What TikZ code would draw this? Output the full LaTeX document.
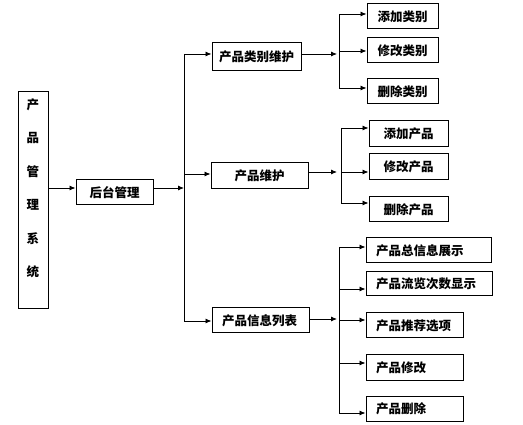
\documentclass[tikz,border=0pt]{standalone}
\usepackage{fontspec}
\newfontfamily\cjk{Noto Sans CJK SC}
\usetikzlibrary{arrows.meta}
\tikzset{
  box/.style={draw, line width=1pt, inner sep=0pt, font=\cjk\bfseries\fontsize{12.5}{14}\selectfont},
  lbox/.style={box, align=left, inner xsep=10pt},
  arr/.style={line width=0.8pt, -{Latex[length=6pt,width=5pt]}},
  ln/.style={line width=0.8pt},
}
\begin{document}
\begin{tikzpicture}[x=1pt,y=-1pt]
\useasboundingbox (0,0) rectangle (523,425);
% left column
\node[box, minimum width=30, minimum height=217] (L) at (33,200.5) {};
\node[font=\cjk\bfseries\fontsize{12.5}{33.5}\selectfont, align=center] (Lt) at (33,188.5) {产\\品\\管\\理\\系\\统};
\node[box, minimum width=77, minimum height=25] (hm) at (114.5,192.5) {后台管理};
% middle
\node[box, minimum width=89, minimum height=28] (pcm) at (256.5,57) {产品类别维护};
\node[box, minimum width=97, minimum height=26] (pm) at (259.5,176) {产品维护};
\node[lbox, text width=77, minimum height=25] (pil) at (260.5,320.5) {产品信息列表};
% group 1
\node[box, minimum width=71, minimum height=25] (c1) at (402.5,16.5) {添加类别};
\node[box, minimum width=71, minimum height=25] (c2) at (402.5,50.5) {修改类别};
\node[box, minimum width=71, minimum height=25] (c3) at (402.5,91.5) {删除类别};
% group 2
\node[box, minimum width=79, minimum height=26] (p1) at (408.5,134) {添加产品};
\node[box, minimum width=79, minimum height=26] (p2) at (408.5,167) {修改产品};
\node[box, minimum width=79, minimum height=25] (p3) at (408.5,209.5) {删除产品};
% group 3
\node[lbox, text width=105, minimum height=25] (i1) at (428.5,250.5) {产品总信息展示};
\node[lbox, text width=106, minimum height=24] (i2) at (429,284) {产品流览次数显示};
\node[lbox, text width=77, minimum height=25] (i3) at (414.5,325.5) {产品推荐选项};
\node[lbox, text width=77, minimum height=25] (i4) at (414.5,367.5) {产品修改};
\node[lbox, text width=77, minimum height=25] (i5) at (414.5,408.5) {产品删除};
% spines
\coordinate (s0a) at (184,54);
\coordinate (s0b) at (184,321);
\coordinate (s1a) at (339,14);
\coordinate (s1b) at (339,88);
\coordinate (s2a) at (341,128);
\coordinate (s2b) at (341,203);
\coordinate (s3a) at (339,247);
\coordinate (s3b) at (339,413);
\draw[ln] (s0a) -- (s0b);
\draw[ln] (s1a) -- (s1b);
\draw[ln] (s2a) -- (s2b);
\draw[ln] (s3a) -- (s3b);
% connectors
\coordinate (a0) at (48,188);
\draw[arr] (a0) -- (a0 -| hm.west);
\coordinate (a1) at (153,188);
\draw[arr] (a1) -- (a1 -| s0a);
\draw[arr] (s0a) -- (s0a -| pcm.west);
\coordinate (a2) at (184,174);
\draw[arr] (a2) -- (a2 -| pm.west);
\draw[arr] (s0b) -- (s0b -| pil.west);
\coordinate (b1) at (301,54);
\draw[arr, shorten >=2pt] (b1) -- (b1 -| s1a);
\coordinate (b2) at (308,172);
\draw[arr, shorten >=4pt] (b2) -- (b2 -| s2a);
\coordinate (b3) at (309,319);
\draw[arr, shorten >=2pt] (b3) -- (b3 -| s3a);
% group 1 branches
\draw[arr] (s1a) -- (s1a -| c1.west);
\coordinate (g12) at (339,51);
\draw[arr] (g12) -- (g12 -| c2.west);
\draw[arr] (s1b) -- (s1b -| c3.west);
% group 2 branches
\draw[arr] (s2a) -- (s2a -| p1.west);
\coordinate (g22) at (341,172);
\draw[arr] (g22) -- (g22 -| p2.west);
\draw[arr] (s2b) -- (s2b -| p3.west);
% group 3 branches
\draw[arr] (s3a) -- (s3a -| i1.west);
\coordinate (g32) at (339,289);
\draw[arr] (g32) -- (g32 -| i2.west);
\coordinate (g33) at (339,320);
\draw[arr] (g33) -- (g33 -| i3.west);
\coordinate (g34) at (339,363);
\draw[arr] (g34) -- (g34 -| i4.west);
\draw[arr] (s3b) -- (s3b -| i5.west);
\end{tikzpicture}
\end{document}
